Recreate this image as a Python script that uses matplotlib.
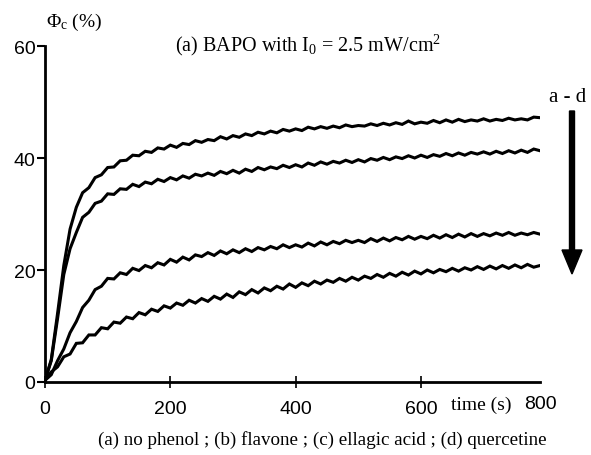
import matplotlib
matplotlib.use("Agg")
import matplotlib.pyplot as plt
import numpy as np

# time axis (s)
time_s = list(range(0, 800, 10))

# (a) no phenol
phi_a = [0.3, 4.0, 12.2, 20.8, 27.3, 31.2, 33.8, 34.7, 36.5, 37.0,
         38.3, 38.4, 39.5, 39.6, 40.5, 40.4, 41.2, 41.0, 41.8, 41.6,
         42.3, 41.9, 42.6, 42.4, 43.1, 42.8, 43.3, 43.1, 43.8, 43.4,
         44.0, 43.7, 44.3, 44.0, 44.6, 44.3, 44.8, 44.5, 45.1, 44.8,
         45.2, 44.9, 45.5, 45.2, 45.6, 45.3, 45.7, 45.4, 45.9, 45.6,
         45.8, 45.7, 46.1, 45.8, 46.2, 45.9, 46.3, 46.0, 46.6, 46.1,
         46.4, 46.2, 46.7, 46.3, 46.8, 46.4, 46.9, 46.5, 46.8, 46.6,
         47.0, 46.6, 46.9, 46.7, 47.1, 46.8, 47.0, 46.8, 47.3, 47.2]
# (b) flavone
phi_b = [0.3, 3.8, 11.3, 19.2, 23.8, 26.7, 29.4, 30.3, 31.9, 32.3,
         33.6, 33.5, 34.5, 34.4, 35.3, 34.9, 35.7, 35.4, 36.2, 35.8,
         36.5, 36.1, 36.8, 36.4, 37.1, 36.8, 37.3, 36.9, 37.6, 37.2,
         37.8, 37.3, 38.0, 37.6, 38.3, 37.9, 38.4, 38.1, 38.7, 38.3,
         38.8, 38.4, 39.1, 38.7, 39.3, 38.9, 39.4, 39.1, 39.6, 39.2,
         39.7, 39.3, 39.9, 39.6, 40.1, 39.7, 40.2, 39.9, 40.4, 40.0,
         40.5, 40.1, 40.6, 40.3, 40.8, 40.4, 40.9, 40.5, 41.0, 40.7,
         41.1, 40.7, 41.2, 40.8, 41.3, 40.9, 41.4, 41.0, 41.6, 41.3]
# (c) ellagic acid
phi_c = [0.3, 1.3, 3.8, 5.9, 8.8, 10.8, 13.3, 14.6, 16.5, 17.1,
         18.5, 18.4, 19.5, 19.2, 20.3, 19.9, 20.8, 20.4, 21.3, 20.9,
         21.9, 21.4, 22.3, 21.8, 22.7, 22.4, 23.1, 22.6, 23.4, 22.9,
         23.6, 23.1, 23.8, 23.3, 24.0, 23.6, 24.2, 23.8, 24.5, 24.0,
         24.5, 24.1, 24.8, 24.3, 25.0, 24.5, 25.1, 24.7, 25.3, 24.9,
         25.3, 24.9, 25.6, 25.1, 25.7, 25.2, 25.8, 25.4, 26.0, 25.5,
         26.0, 25.6, 26.2, 25.7, 26.3, 25.8, 26.4, 25.9, 26.5, 26.0,
         26.5, 26.1, 26.6, 26.2, 26.7, 26.2, 26.6, 26.3, 26.7, 26.4]
# (d) quercetine
phi_d = [0.3, 1.8, 2.7, 4.5, 5.0, 6.9, 7.0, 8.4, 8.4, 9.7,
         9.5, 10.7, 10.5, 11.6, 11.3, 12.4, 12.0, 13.0, 12.6, 13.6,
         13.2, 14.1, 13.7, 14.6, 14.1, 14.9, 14.4, 15.3, 14.8, 15.7,
         15.1, 16.1, 15.6, 16.5, 15.9, 16.8, 16.3, 17.1, 16.6, 17.5,
         16.9, 17.7, 17.2, 18.0, 17.5, 18.2, 17.8, 18.5, 18.0, 18.7,
         18.2, 18.9, 18.5, 19.2, 18.7, 19.4, 18.9, 19.6, 19.1, 19.8,
         19.3, 20.0, 19.5, 20.1, 19.7, 20.3, 19.8, 20.4, 20.0, 20.6,
         20.1, 20.7, 20.2, 20.8, 20.3, 20.9, 20.4, 21.0, 20.5, 20.8]

x_ticks = [0, 200, 400, 600]
y_ticks = [0, 20, 40, 60]

plt.rcParams['mathtext.fontset'] = 'custom'
plt.rcParams['mathtext.rm'] = 'Liberation Serif'
plt.rcParams['mathtext.it'] = 'Liberation Serif:italic'

fig = plt.figure(figsize=(5.91, 4.56), dpi=100)
ax = fig.add_axes([45/591, 1-383/456, (540-45)/591, (383-47)/456])

for series in (phi_a, phi_b, phi_c, phi_d):
    ax.plot(time_s, series, color='black', lw=2.2, solid_joinstyle='miter')

ax.set_xlim(0, 790)
ax.set_ylim(0, 60)
for s in ('top', 'right'):
    ax.spines[s].set_visible(False)
for s in ('left', 'bottom'):
    ax.spines[s].set_linewidth(2.0)

sans = 'Liberation Sans'
serif = 'Liberation Serif'
ax.set_xticks(x_ticks)
ax.set_xticklabels([str(v) for v in x_ticks], fontfamily=sans, fontsize=14)
ax.set_yticks(y_ticks)
ax.set_yticklabels([str(v) for v in y_ticks], fontfamily=sans, fontsize=14)
ax.tick_params(axis='x', direction='inout', length=8, width=1.2, pad=9)
ax.tick_params(axis='y', direction='out', length=6, width=1.5, pad=1)

# labels placed beyond the last x tick, in axes-data coordinates
ax.text(791, -2.4, '800', ha='center', va='top', fontfamily=sans,
        fontsize=14, clip_on=False)
ax.text(696, -2.4, 'time (s)', ha='center', va='top', fontfamily=serif,
        fontsize=14, clip_on=False)

fig.text(46/591, 1-22/456, r'$\Phi_{\mathrm{c}}$ (%)', ha='left', va='center',
         fontfamily=serif, fontsize=14)
fig.text(308/591, 1-45/456, r'(a) BAPO with I$_0$ = 2.5 mW/cm$^2$', ha='center', va='center',
         fontfamily=serif, fontsize=14.5)
fig.text(568/591, 1-97/456, 'a - d', ha='center', va='center', fontfamily=serif, fontsize=15)
fig.text(322/591, 1-440/456, '(a) no phenol ; (b) flavone ; (c) ellagic acid ; (d) quercetine',
         ha='center', va='center', fontfamily=serif, fontsize=13.7)

fig.patches.append(matplotlib.patches.FancyArrow(
    572/591, 1-112/456, 0, -(275-112)/456, width=5/591, head_width=20/591,
    head_length=24/456, length_includes_head=True, color='black',
    transform=fig.transFigure))

fig.savefig('out.png', dpi=100)
